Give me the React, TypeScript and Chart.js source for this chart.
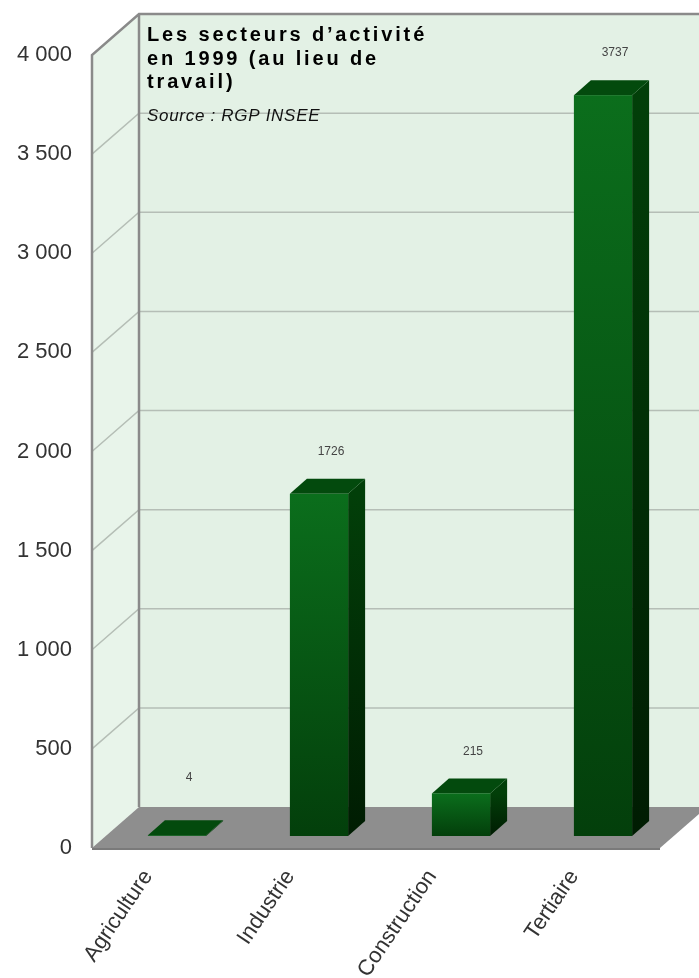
import { useEffect, useRef } from "react";
import { Chart, registerables } from "chart.js";

Chart.register(...registerables);

const categories = ["Agriculture", "Industrie", "Construction", "Tertiaire"];
const values = [4, 1726, 215, 3737];
const yMin = 0;
const yMax = 4000;
const yStep = 500;
const titleLines = ["Les secteurs d’activité", "en 1999 (au lieu de", "travail)"];
const sourceText = "Source : RGP INSEE";

// 3D geometry (pixels)
const FDX = 47; // floor / wall depth x
const FDY = 41; // floor / wall depth y
const BOX = 14; // bar offset from front plane x
const BOY = 12; // bar offset from front plane y
const BDX = 17; // bar depth x
const BDY = 15; // bar depth y

const fmt = (v: number) => String(v).replace(/\B(?=(\d{3})+(?!\d))/g, " ");

const threeD = {
  id: "threeD",
  beforeDatasetsDraw(chart: any) {
    const { ctx, chartArea: ca, scales } = chart;
    const y = scales.y;
    const y0 = y.getPixelForValue(yMin);
    const yT = y.getPixelForValue(yMax);
    const L = ca.left;
    const R = ca.right;
    const W = chart.width + 10;
    ctx.save();
    // back wall
    ctx.fillStyle = "#e3f1e5";
    ctx.fillRect(L + FDX, yT - FDY, W, y0 - yT);
    // left wall
    ctx.fillStyle = "#e8f4ea";
    ctx.beginPath();
    ctx.moveTo(L, yT);
    ctx.lineTo(L + FDX, yT - FDY);
    ctx.lineTo(L + FDX, y0 - FDY);
    ctx.lineTo(L, y0);
    ctx.closePath();
    ctx.fill();
    // gridlines
    ctx.strokeStyle = "#b5beb6";
    ctx.lineWidth = 1.5;
    for (let v = yMin + yStep; v < yMax; v += yStep) {
      const p = y.getPixelForValue(v);
      ctx.beginPath();
      ctx.moveTo(L, p);
      ctx.lineTo(L + FDX, p - FDY);
      ctx.lineTo(W, p - FDY);
      ctx.stroke();
    }
    // floor
    ctx.fillStyle = "#8e8e8e";
    ctx.beginPath();
    ctx.moveTo(L, y0);
    ctx.lineTo(L + FDX, y0 - FDY);
    ctx.lineTo(R + FDX, y0 - FDY);
    ctx.lineTo(R, y0);
    ctx.closePath();
    ctx.fill();
    ctx.strokeStyle = "#7a7a7a";
    ctx.lineWidth = 2;
    ctx.beginPath();
    ctx.moveTo(L, y0 + 1);
    ctx.lineTo(R, y0 + 1);
    ctx.stroke();
    // outlines
    ctx.strokeStyle = "#8a8a8a";
    ctx.lineWidth = 2.5;
    ctx.beginPath();
    ctx.moveTo(L, y0);
    ctx.lineTo(L, yT);
    ctx.lineTo(L + FDX, yT - FDY);
    ctx.lineTo(W, yT - FDY);
    ctx.moveTo(L + FDX, yT - FDY);
    ctx.lineTo(L + FDX, y0 - FDY);
    ctx.stroke();
    ctx.restore();
  },
  afterDatasetsDraw(chart: any) {
    const { ctx } = chart;
    const meta = chart.getDatasetMeta(0);
    ctx.save();
    meta.data.forEach((bar: any, i: number) => {
      const { x, y: top, base, width } = bar.getProps(["x", "y", "base", "width"], true);
      const x0 = x - width / 2 + BOX;
      const x1 = x + width / 2 + BOX;
      const yt = top - BOY;
      const yb = base - BOY;
      // side face
      const sg = ctx.createLinearGradient(0, yt, 0, yb);
      sg.addColorStop(0, "#023f09");
      sg.addColorStop(1, "#001c02");
      ctx.fillStyle = sg;
      ctx.beginPath();
      ctx.moveTo(x1, yt);
      ctx.lineTo(x1 + BDX, yt - BDY);
      ctx.lineTo(x1 + BDX, yb - BDY);
      ctx.lineTo(x1, yb);
      ctx.closePath();
      ctx.fill();
      // top face
      ctx.fillStyle = "#034a0d";
      ctx.beginPath();
      ctx.moveTo(x0, yt);
      ctx.lineTo(x0 + BDX, yt - BDY);
      ctx.lineTo(x1 + BDX, yt - BDY);
      ctx.lineTo(x1, yt);
      ctx.closePath();
      ctx.fill();
      // front face
      if (yb - yt > 0.5) {
        const fg = ctx.createLinearGradient(0, yt, 0, yb);
        fg.addColorStop(0, "#0b6e1c");
        fg.addColorStop(1, "#033f0b");
        ctx.fillStyle = fg;
        ctx.fillRect(x0, yt, x1 - x0, yb - yt);
      }
      // value label
      const backTop = yt - BDY;
      const ly = Math.min(backTop, yb - BDY - 16) - 27;
      ctx.fillStyle = "#444";
      ctx.font = "12px 'Liberation Sans Narrow', 'Liberation Sans', Arial, sans-serif";
      ctx.textAlign = "center";
      ctx.textBaseline = "middle";
      ctx.fillText(String(values[i]), x + BOX + 12, ly);
    });
    ctx.restore();
  },
  afterDraw(chart: any) {
    const { ctx } = chart;
    ctx.save();
    ctx.fillStyle = "#000";
    ctx.textAlign = "left";
    ctx.textBaseline = "alphabetic";
    ctx.font = "bold 20px 'Liberation Sans', Arial, sans-serif";
    (ctx as any).letterSpacing = "2.85px";
    titleLines.forEach((t, i) => ctx.fillText(t, 147, 41 + i * 23.5));
    ctx.font = "italic 17px 'Liberation Sans', Arial, sans-serif";
    (ctx as any).letterSpacing = "0.7px";
    ctx.fillStyle = "#111";
    ctx.fillText(sourceText, 147, 121);
    ctx.restore();
  },
};

export default function App() {
  const ref = useRef<HTMLCanvasElement | null>(null);
  useEffect(() => {
    if (!ref.current) return;
    const chart = new Chart(ref.current, {
      type: "bar",
      data: {
        labels: categories,
        datasets: [
          {
            data: values,
            backgroundColor: "rgba(0,0,0,0)",
            borderWidth: 0,
            barPercentage: 0.41,
            categoryPercentage: 1,
          },
        ],
      },
      options: {
        animation: false,
        responsive: true,
        maintainAspectRatio: false,
        layout: { padding: { left: 0, right: 39, top: 55, bottom: 0 } },
        plugins: {
          legend: { display: false },
          tooltip: { enabled: false },
          title: { display: false },
        },
        scales: {
          x: {
            grid: { display: false },
            border: { display: false },
            ticks: {
              autoSkip: false,
              minRotation: 56,
              maxRotation: 56,
              padding: 9,
              labelOffset: -15,
              color: "#333",
              font: { family: "'Liberation Sans', Arial, sans-serif", size: 22 },
            },
            afterFit: (s: any) => {
              s.height = 130;
            },
          },
          y: {
            min: yMin,
            max: yMax,
            grid: { display: false, drawTicks: false },
            border: { display: false },
            ticks: {
              stepSize: yStep,
              padding: 20,
              color: "#333",
              font: { family: "'Liberation Sans', Arial, sans-serif", size: 22 },
              callback: (v: any) => fmt(Number(v)),
            },
            afterFit: (s: any) => {
              s.width = 92;
            },
          },
        },
      },
      plugins: [threeD],
    });
    return () => chart.destroy();
  }, []);
  return (
    <div style={{ position: "fixed", left: 0, top: 0, width: 699, height: 978, background: "#fff" }}>
      <canvas ref={ref} />
    </div>
  );
}
